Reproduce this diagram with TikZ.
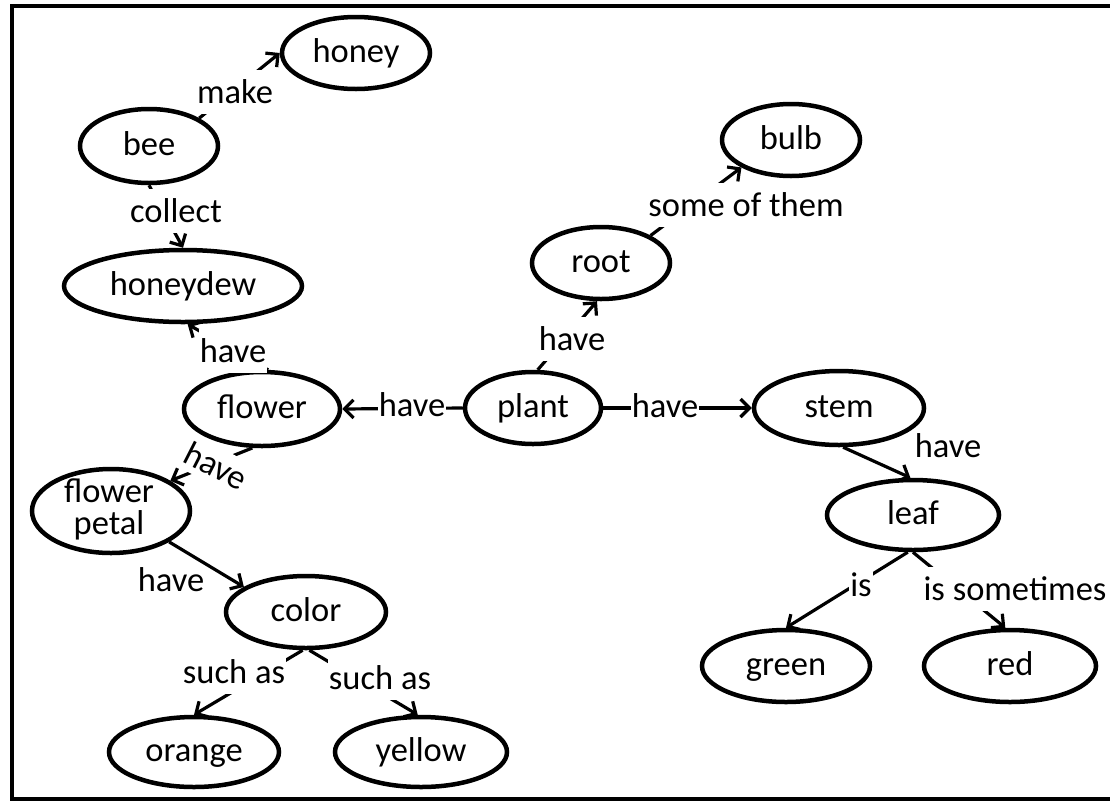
\documentclass[tikz,border=0pt]{standalone}
\usepackage{fontspec}
\setmainfont{Carlito}
\usetikzlibrary{arrows.meta,shapes.geometric}
\begin{document}
\begin{tikzpicture}[x=1pt,y=-1pt,
  txt/.style={font=\fontsize{34.5}{32}\selectfont},
  concept/.style={ellipse, draw, line width=4.5pt, inner sep=0pt, txt,
    text height=27pt, text depth=8pt},
  sz/.style 2 args={minimum width=#1pt, minimum height=#2pt},
  link/.style={line width=3.2pt, -{Straight Barb[length=9pt,width=18pt]}},
  lbl/.style={fill=white, inner xsep=1pt, inner ysep=10pt, txt},
  note/.style={inner sep=0pt, txt}]
\useasboundingbox (0,0) rectangle (1110,801);
\clip (0,0) rectangle (1110,801);
\draw[line width=4.5pt] (12,6) rectangle (1125,799);

% concepts
\node[concept, sz={148}{72}] (honey)    at (356,53)  {honey};
\node[concept, sz={138}{74}] (bee)      at (149,146) {bee};
\node[concept, sz={238}{72}] (honeydew) at (183,286) {honeydew};
\node[concept, sz={156}{74}] (flower)   at (262,409) {flower};
\node[concept, sz={158}{84}] (petal)    at (111,511) {};
\node[note, align=center]    (petaltext) at (109,509) {flower\\petal};
\node[concept, sz={160}{72}] (color)    at (306,612) {color};
\node[concept, sz={170}{70}] (orange)   at (194,752) {orange};
\node[concept, sz={172}{70}] (yellow)   at (421,752) {yellow};
\node[concept, sz={136}{72}] (plant)    at (533,408) {plant};
\node[concept, sz={138}{72}] (root)     at (601,263) {root};
\node[concept, sz={138}{72}] (bulb)     at (791,140) {bulb};
\node[concept, sz={170}{74}] (stem)     at (839,408) {stem};
\node[concept, sz={172}{70}] (leaf)     at (913,515) {leaf};
\node[concept, sz={168}{72}] (green)    at (786,666) {green};
\node[concept, sz={172}{72}] (red)      at (1010,666) {red};

% links
\draw[link] (bee.29) -- (honey.west);
\draw[link] (bee.south) -- (honeydew.north);
\draw[link] (flower.81) -- (honeydew.-83);
\draw[link] (plant.west) -- (flower.east);
\draw[link] (flower.-104) -- (petal.27);
\draw[link] (petal.-28) -- (color.158);
\draw[link] (color.-95) -- (orange.north);
\draw[link] (color.-85) -- (yellow.95);
\draw[link] (plant.83) -- (root.-96);
\draw[link] (root.29) -- (bulb.-151);
\draw[link] (plant.east) -- (stem.west);
\draw[link] (stem.-84) -- (leaf.94);
\draw[link] (leaf.-98) -- (green.north);
\draw[link] (leaf.-90) -- (red.97);

% link labels
\node[lbl] (lmake)    at (235,92)  {make};
\node[lbl] (lcollect) at (176,211) {collect};
\node[lbl] (lhave1)   at (233,351) {have};
\node[lbl] (lhave2)   at (412,405) {have};
\node[lbl, inner ysep=6pt, rotate=-27] (lhave3) at (216,466) {have};
\node[note] (lhave4)  at (171,580) {have};
\node[lbl] (lsuch1)   at (234,672) {such as};
\node[lbl] (lsuch2)   at (380,678) {such as};
\node[lbl] (lhave5)   at (572,339) {have};
\node[lbl] (lsome)    at (746,205) {some of them};
\node[lbl] (lhave6)   at (665,406) {have};
\node[note] (lhave7)  at (948,446) {have};
\node[lbl] (lis)      at (861,585) {is};
\node[lbl] (lissome)  at (1015,589) {is sometimes};
\end{tikzpicture}
\end{document}
